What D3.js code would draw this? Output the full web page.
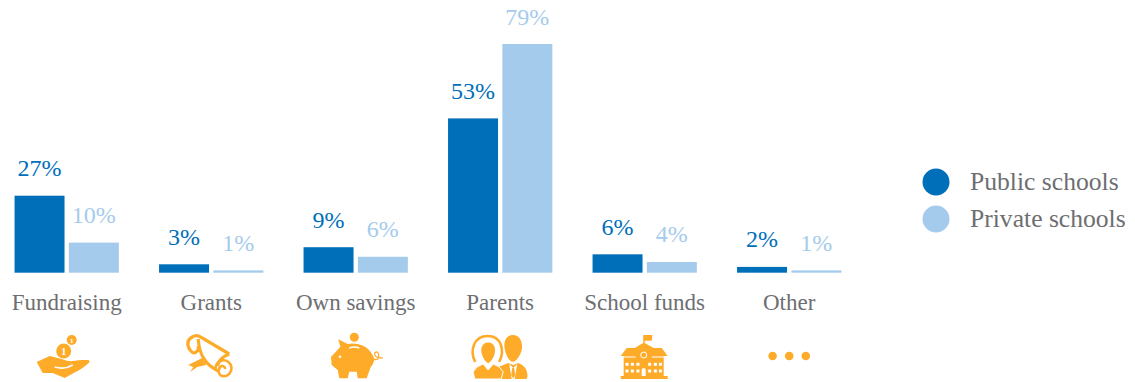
<!DOCTYPE html>
<html>
<head>
<meta charset="utf-8">
<script src="https://cdn.jsdelivr.net/npm/d3@7"></script>
<style>
  html, body { margin: 0; padding: 0; background: #fff; }
  svg { display: block; }
  text { font-family: "Liberation Serif", serif; }
</style>
</head>
<body>
<div id="chart"></div>
<script>
const categories = ['Fundraising', 'Grants', 'Own savings', 'Parents', 'School funds', 'Other'];
const seriesNames = ['Public schools', 'Private schools'];
// the printed labels are these rounded
const publicValues = [26.6, 2.9, 8.8, 53.3, 6.35, 2];
const privateValues = [10.4, 0.8, 5.5, 79, 3.7, 0.8];
const seriesColors = ['#006fba', '#a5cbec'];
const textColor = '#6d6e71';
const iconColor = '#fdab28';

const width = 1135;
const height = 382;
const baseline = 272.7;

const svg = d3.select('#chart').append('svg')
  .attr('width', width)
  .attr('height', height)
  .attr('viewBox', '0 0 ' + width + ' ' + height);

const x = d3.scaleBand().domain(categories).range([-5.55, 861.45]);
const xInner = d3.scaleBand().domain(seriesNames).range([0, 104.3]).paddingInner(0.08);
const y = d3.scaleLinear().domain([0, 79]).range([baseline, 44]);

const groups = svg.selectAll('.group')
  .data(categories)
  .enter().append('g')
  .attr('class', 'group')
  .attr('transform', d => 'translate(' + (x(d) + x.bandwidth() / 2 - 52.15) + ',0)');

const allValues = [publicValues, privateValues];

seriesNames.forEach((name, s) => {
  groups.append('rect')
    .attr('x', xInner(name))
    .attr('width', xInner.bandwidth())
    .attr('y', (d, i) => y(allValues[s][i]))
    .attr('height', (d, i) => baseline - y(allValues[s][i]))
    .attr('fill', seriesColors[s]);

  groups.append('text')
    .attr('x', xInner(name) + xInner.bandwidth() / 2)
    .attr('y', (d, i) => y(allValues[s][i]) - 19.5)
    .attr('text-anchor', 'middle')
    .attr('fill', seriesColors[s])
    .style('font-size', '24px')
    .text((d, i) => Math.round(allValues[s][i]) + '%');
});

// category labels
svg.selectAll('.cat')
  .data(categories)
  .enter().append('text')
  .attr('class', 'cat')
  .attr('x', d => x(d) + x.bandwidth() / 2)
  .attr('y', 310)
  .attr('text-anchor', 'middle')
  .attr('fill', textColor)
  .style('font-size', '23px')
  .text(d => d);

// icons, drawn around the centre of each category
function coin(g, cx, cy, r, size) {
  g.append('circle').attr('cx', cx).attr('cy', cy).attr('r', r).attr('fill', iconColor);
  g.append('text').attr('x', cx).attr('y', cy + size * 0.36)
    .attr('text-anchor', 'middle').attr('fill', '#fff')
    .style('font-size', size + 'px').style('font-weight', 'bold').text('1');
}

const icons = {
  Fundraising(g) {
    coin(g, -3, -5, 7.5, 10);
    coin(g, 5, -16, 5, 7);
    g.append('path').attr('fill', iconColor)
      .attr('d', 'M-30,6 L-17,0 L-5,3 Q3,6 6,5 L14,4 L22,4 L23,6 Q16,13 7,17 L-2,22 L-14,17 L-24,17 Z');
    g.append('path').attr('fill', 'none').attr('stroke', '#fff').attr('stroke-width', 1.5)
      .attr('d', 'M-12,11 Q-2,14 6,9');
  },
  Grants(g) {
    g.append('path').attr('fill', 'none').attr('stroke', iconColor).attr('stroke-width', 3.2)
      .attr('d', 'M-22,-8 Q-26,-15 -19,-19 Q-14,-22 -9,-18 L18,-2 M-13,-17 Q-12,-4 -7,3 Q-4,9 7,15 '
        + 'M-23,-9 Q-19,-1 -15,-4 Q-12,-6 -13,-10 M18,-2 Q8,2 6,10');
    g.append('path').attr('fill', 'none').attr('stroke', iconColor).attr('stroke-width', 2.6)
      .attr('d', 'M4.5,14 A8,8 0 1 1 12.5,20.3 A5,5 0 0 1 8,13 A3,3 0 0 1 14,13');
    g.append('path').attr('fill', iconColor)
      .attr('d', 'M-23,9 L-9,2 L-5,9 L-14,11 L-21,16 L-18,11 Z');
  },
  'Own savings'(g) {
    g.append('circle').attr('cx', -1.4).attr('cy', -18.7).attr('r', 4.5).attr('fill', iconColor);
    g.append('path').attr('fill', iconColor)
      .attr('d', 'M-17.4,-16.7 L-8,-12 Q-3,-13 2,-12 Q11,-10 15,-4 Q20,3 18,6 Q17,9 15,11 L11,22.3 L2,22.3 L1,15.7 '
        + 'L-6.4,15.7 L-8,22.3 L-16.4,22.3 L-18,14 L-24,9 L-24.7,1 L-20,-4 L-15.4,-9.3 Z');
    g.append('path').attr('fill', 'none').attr('stroke', '#fff').attr('stroke-width', 1.5)
      .attr('d', 'M-6.4,-8 Q-1,-10 3.6,-8');
    g.append('circle').attr('cx', -15.7).attr('cy', 0.7).attr('r', 1.3).attr('fill', '#fff');
    g.append('path').attr('fill', 'none').attr('stroke', iconColor).attr('stroke-width', 1.3)
      .attr('d', 'M17,3 Q24,5 23,-1 Q22,-6 19,-3 Q18,2 27,2');
  },
  Parents(g) {
    // father
    g.append('path').attr('fill', iconColor)
      .attr('d', 'M12.8,-21 C20,-21 23,-13 21.5,-6 C20,0 16,5.7 12.8,5.7 C9,5.7 6,0 4.8,-6 C3,-13 5,-21 12.8,-21 Z');
    g.append('path').attr('fill', iconColor)
      .attr('d', 'M-2,23 L-2,11 Q3,9 8,7 L13,9 L18,7 Q26,10 27,17 Q28,23 25,23 Z');
    g.append('path').attr('fill', '#fff').attr('d', 'M9,8 L13,12 L17,8 L14.5,23 L11.5,23 Z');
    g.append('path').attr('fill', iconColor).attr('d', 'M12,12 L14,12 L15,19 L13,22.5 L11,19 Z');
    // mother
    g.append('path').attr('fill', '#fff')
      .attr('d', 'M-25,6 C-31,-6 -26,-20 -12.5,-20 C1,-20 5,-6 -1,6 Z');
    g.append('path').attr('fill', 'none').attr('stroke', iconColor).attr('stroke-width', 2.6)
      .attr('d', 'M-25,6 C-31,-6 -26,-20 -12.5,-20 C1,-20 5,-6 -1,6');
    g.append('path').attr('fill', iconColor)
      .attr('d', 'M-12,-13.5 C-5,-13.5 -4,-6 -6,-1 Q-8,5 -12,7.3 Q-16,5 -18,-1 C-20,-6 -19,-13.5 -12,-13.5 Z');
    g.append('path').attr('fill', iconColor).attr('stroke', '#fff').attr('stroke-width', 1)
      .attr('d', 'M-27,15.7 Q-24,10 -17,8 L-12,14 L-7,8 Q0,10 3,15.7 L1,23 L-25.5,23 Z');
  },
  'School funds'(g) {
    g.append('path').attr('fill', iconColor)
      .attr('d', 'M-1.5,-21 L7.7,-21 L7,-15.3 L0,-15.3 L0,-13 L9,-8 L17,-8 L23,0 L19,0 L19,20 L23,20 L23,23 '
        + 'L-24,23 L-24,20 L-21,20 L-21,0 L-24,0 L-18,-8 L-10,-8 L-1.5,-13 Z');
    g.append('circle').attr('cx', -1).attr('cy', -1).attr('r', 3).attr('fill', 'none')
      .attr('stroke', '#fff').attr('stroke-width', 1);
    g.append('path').attr('stroke', '#fff').attr('stroke-width', 1).attr('d', 'M-24,1 L-9,1 M7,1 L23,1');
    const windowRows = [6.8, 13.5];
    const windowCols = [-17.7, -12.3, -6.7, 5, 10.7, 15.7];
    windowRows.forEach(wy => windowCols.forEach(wx => {
      g.append('rect').attr('x', wx - 1.5).attr('y', wy).attr('width', 3).attr('height', 3).attr('fill', '#fff');
    }));
    g.append('path').attr('fill', '#fff').attr('d', 'M-3,20 L-3,14 A2,2 0 0 1 1,14 L1,20 Z');
  },
  Other(g) {
    [-16.6, 0, 16.6].forEach(dx => {
      g.append('circle').attr('cx', dx).attr('cy', 0).attr('r', 4.3).attr('fill', iconColor);
    });
  }
};

svg.selectAll('.icon')
  .data(categories)
  .enter().append('g')
  .attr('class', 'icon')
  .attr('transform', d => 'translate(' + (x(d) + x.bandwidth() / 2) + ',356)')
  .each(function(d) { icons[d](d3.select(this)); });

// legend
const legend = svg.selectAll('.legend')
  .data(seriesNames)
  .enter().append('g')
  .attr('class', 'legend')
  .attr('transform', (d, i) => 'translate(936,' + (182 + i * 37) + ')');

legend.append('circle')
  .attr('r', 13.5)
  .attr('fill', (d, i) => seriesColors[i]);

legend.append('text')
  .attr('x', 34)
  .attr('y', 8)
  .attr('fill', textColor)
  .style('font-size', '25.6px')
  .text(d => d);
</script>
</body>
</html>
